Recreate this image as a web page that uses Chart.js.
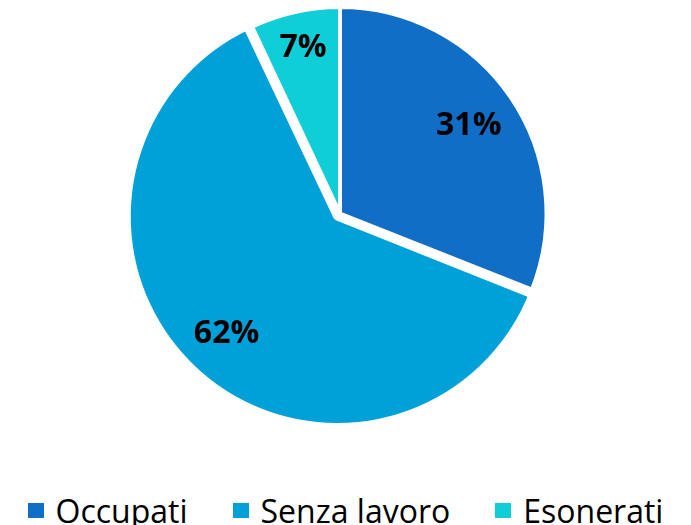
<!DOCTYPE html>
<html>
<head>
<meta charset="utf-8">
<script src="https://cdn.jsdelivr.net/npm/chart.js@4/dist/chart.umd.min.js"></script>
<style>
  html, body { margin: 0; padding: 0; background: #fff; }
  body { width: 691px; height: 525px; overflow: hidden; position: relative; }
  .wrap { width: 691px; height: 437px; position: absolute; left: 0; top: -5px; }
  #legend {
    position: absolute; left: 0; top: 490px; width: 691px; height: 40px;
    display: flex; justify-content: center; align-items: center; gap: 45px;
    font: 32px/31px "Open Sans", sans-serif; color: #000; white-space: nowrap;
  }
  #legend .item { display: flex; align-items: center; }
  #legend .box { width: 16px; height: 15px; margin-right: 12px; }
</style>
</head>
<body>
<div class="wrap"><canvas id="myChart"></canvas></div>
<div id="legend"></div>
<script>
const categories = ['Occupati', 'Senza lavoro', 'Esonerati'];
const shares = [31, 62, 7];
const sliceColors = ['#106EC6', '#00A0D9', '#10CED8'];
const sliceOffsets = [0, 16, 0];
const sliceBorders = [4, 8, 4];
const labelRadius = [0.754, 0.783, 0.822];

// percent labels inside the slices
const sliceLabels = {
  id: 'sliceLabels',
  afterDatasetsDraw(chart) {
    const ctx = chart.ctx;
    const meta = chart.getDatasetMeta(0);
    ctx.save();
    ctx.font = 'bold 32px "Open Sans", sans-serif';
    ctx.fillStyle = '#000';
    ctx.textAlign = 'center';
    ctx.textBaseline = 'middle';
    meta.data.forEach((arc, i) => {
      const p = arc.getProps(['x', 'y', 'startAngle', 'endAngle', 'outerRadius'], true);
      const mid = (p.startAngle + p.endAngle) / 2;
      // chart.js moves an arc by offset / 4
      const r = p.outerRadius * labelRadius[i] + sliceOffsets[i] / 4;
      ctx.fillText(shares[i] + '%', p.x + Math.cos(mid) * r, p.y + Math.sin(mid) * r);
    });
    ctx.restore();
  }
};

const ctx = document.getElementById('myChart').getContext('2d');
const myChart = new Chart(ctx, {
  type: 'pie',
  data: {
    labels: categories,
    datasets: [{
      data: shares,
      backgroundColor: sliceColors,
      borderColor: '#fff',
      borderWidth: sliceBorders,
      offset: sliceOffsets
    }]
  },
  options: {
    responsive: true,
    maintainAspectRatio: false,
    animation: false,
    layout: { padding: { top: 0, bottom: 0, left: 0, right: 11 } },
    plugins: {
      tooltip: { enabled: false },
      legend: { display: false }
    }
  },
  plugins: [sliceLabels]
});

// html legend built from chart's own legend items
const legendEl = document.getElementById('legend');
const items = myChart.options.plugins.legend.labels.generateLabels(myChart);
items.forEach(item => {
  const div = document.createElement('div');
  div.className = 'item';
  const box = document.createElement('span');
  box.className = 'box';
  box.style.background = item.fillStyle;
  const txt = document.createElement('span');
  txt.textContent = item.text;
  div.appendChild(box);
  div.appendChild(txt);
  legendEl.appendChild(div);
});
</script>
</body>
</html>
